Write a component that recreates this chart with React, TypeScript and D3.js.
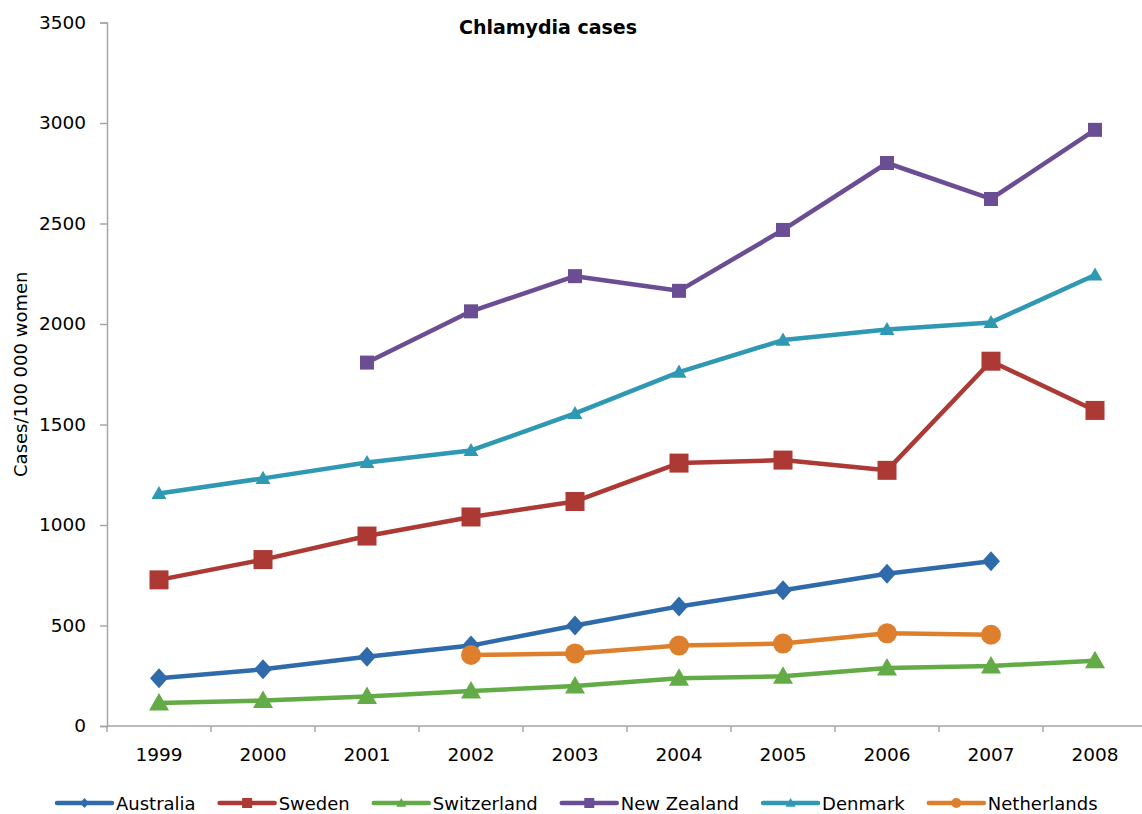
import React, { useEffect, useRef } from 'react';
import * as d3 from 'd3';

const years = ['1999', '2000', '2001', '2002', '2003', '2004', '2005', '2006', '2007', '2008'];
const yTicks = [0, 500, 1000, 1500, 2000, 2500, 3000, 3500];

// null = no data for that year
const australia = [238, 282, 345, 400, 500, 595, 675, 757, 820, null];
const sweden = [727, 828, 945, 1040, 1117, 1308, 1323, 1272, 1815, 1570];
const switzerland = [114, 127, 147, 174, 199, 237, 247, 289, 299, 325];
const newZealand = [null, null, 1808, 2063, 2238, 2165, 2468, 2801, 2622, 2966];
const denmark = [1157, 1232, 1311, 1371, 1555, 1761, 1920, 1973, 2008, 2244];
const netherlands = [null, null, null, 353, 361, 400, 410, 461, 454, null];

type Series = { name: string; values: (number | null)[]; color: string; symbol: string; size: number };

const series: Series[] = [
  { name: 'Australia', values: australia, color: '#2F6BAA', symbol: 'diamond', size: 20 },
  { name: 'Sweden', values: sweden, color: '#AC3934', symbol: 'square', size: 19 },
  { name: 'Switzerland', values: switzerland, color: '#62AB46', symbol: 'triangle', size: 20 },
  { name: 'New Zealand', values: newZealand, color: '#6A4D92', symbol: 'square', size: 14 },
  { name: 'Denmark', values: denmark, color: '#2F98B3', symbol: 'triangle', size: 15 },
  { name: 'Netherlands', values: netherlands, color: '#DE7F2E', symbol: 'circle', size: 20 },
];

const FONT = '"DejaVu Sans", Verdana, sans-serif';

function marker(g: d3.Selection<SVGGElement, unknown, null, undefined>, symbol: string, size: number, color: string) {
  const h = size / 2;
  if (symbol === 'square') {
    g.append('rect').attr('x', -h).attr('y', -h).attr('width', size).attr('height', size).attr('fill', color);
  } else if (symbol === 'circle') {
    g.append('circle').attr('r', h).attr('fill', color);
  } else if (symbol === 'diamond') {
    g.append('path').attr('d', `M0,${-h}L${h * 0.9},0L0,${h}L${-h * 0.9},0Z`).attr('fill', color);
  } else {
    g.append('path').attr('d', `M0,${-h}L${h},${h * 0.75}L${-h},${h * 0.75}Z`).attr('fill', color);
  }
}

export default function App() {
  const svgRef = useRef<SVGSVGElement>(null);

  useEffect(() => {
    if (!svgRef.current) return;
    const svg = d3.select(svgRef.current);
    svg.selectAll('*').remove();

    const left = 107;
    const top = 22.5;
    const bottom = 726;

    const x = d3.scaleBand().domain(years).range([left, left + 104 * years.length]);
    const y = d3.scaleLinear().domain([0, 3500]).range([bottom, top]);

    // y axis
    const yAxis = svg.append('g')
      .attr('transform', `translate(${left},0)`)
      .call(d3.axisLeft(y).tickValues(yTicks).tickFormat(d3.format('d')).tickSize(7).tickPadding(14));
    yAxis.select('.domain').attr('stroke', '#A6A6A6').attr('stroke-width', 1.5);
    yAxis.selectAll('.tick line').attr('stroke', '#A6A6A6').attr('stroke-width', 1.5);
    yAxis.selectAll('.tick text').attr('font-family', FONT).attr('font-size', 18.5).attr('fill', '#000');

    // x axis
    svg.append('line')
      .attr('x1', left).attr('x2', 1142)
      .attr('y1', bottom).attr('y2', bottom)
      .attr('stroke', '#A6A6A6').attr('stroke-width', 1.5);
    svg.append('g').selectAll('line')
      .data(years)
      .join('line')
      .attr('x1', d => x(d)!).attr('x2', d => x(d)!)
      .attr('y1', bottom).attr('y2', bottom + 6)
      .attr('stroke', '#A6A6A6').attr('stroke-width', 1.5);
    svg.append('g').selectAll('text')
      .data(years)
      .join('text')
      .attr('x', d => x(d)! + x.bandwidth() / 2)
      .attr('y', 761)
      .attr('text-anchor', 'middle')
      .attr('font-family', FONT).attr('font-size', 18.5)
      .text(d => d);

    // axis title
    svg.append('text')
      .attr('transform', `translate(27,${(top + bottom) / 2}) rotate(-90)`)
      .attr('text-anchor', 'middle')
      .attr('font-family', FONT).attr('font-size', 18)
      .text('Cases/100 000 women');

    // chart title
    svg.append('text')
      .attr('x', 548).attr('y', 34)
      .attr('text-anchor', 'middle')
      .attr('font-family', FONT).attr('font-size', 19).attr('font-weight', 'bold')
      .text('Chlamydia cases');

    const cx = (i: number) => x(years[i])! + x.bandwidth() / 2;

    series.forEach(s => {
      const line = d3.line<number | null>()
        .defined(d => d !== null)
        .x((_, i) => cx(i))
        .y(d => y(d as number));
      svg.append('path')
        .datum(s.values)
        .attr('fill', 'none')
        .attr('stroke', s.color)
        .attr('stroke-width', 4.5)
        .attr('stroke-linejoin', 'round')
        .attr('d', line);
      s.values.forEach((v, i) => {
        if (v === null) return;
        const g = svg.append('g').attr('transform', `translate(${cx(i)},${y(v)})`);
        marker(g, s.symbol, s.size, s.color);
      });
    });

    // legend
    const legend = svg.append('g').attr('transform', 'translate(0,803)');
    let lx = 57;
    series.forEach(s => {
      const item = legend.append('g').attr('transform', `translate(${lx},0)`);
      item.append('line')
        .attr('x1', 0).attr('x2', 55).attr('y1', 0).attr('y2', 0)
        .attr('stroke', s.color).attr('stroke-width', 4.5).attr('stroke-linecap', 'round');
      const m = item.append('g').attr('transform', 'translate(27.5,0)');
      marker(m, s.symbol, 10, s.color);
      const t = item.append('text')
        .attr('x', 59).attr('y', 6.5)
        .attr('font-family', FONT).attr('font-size', 18)
        .text(s.name);
      const w = (t.node() as SVGTextElement).getComputedTextLength();
      lx += 59 + w + 24;
    });
  }, []);

  return (
    <svg
      ref={svgRef}
      width={1142}
      height={814}
      style={{ position: 'absolute', left: 0, top: 0, background: '#fff' }}
    />
  );
}
